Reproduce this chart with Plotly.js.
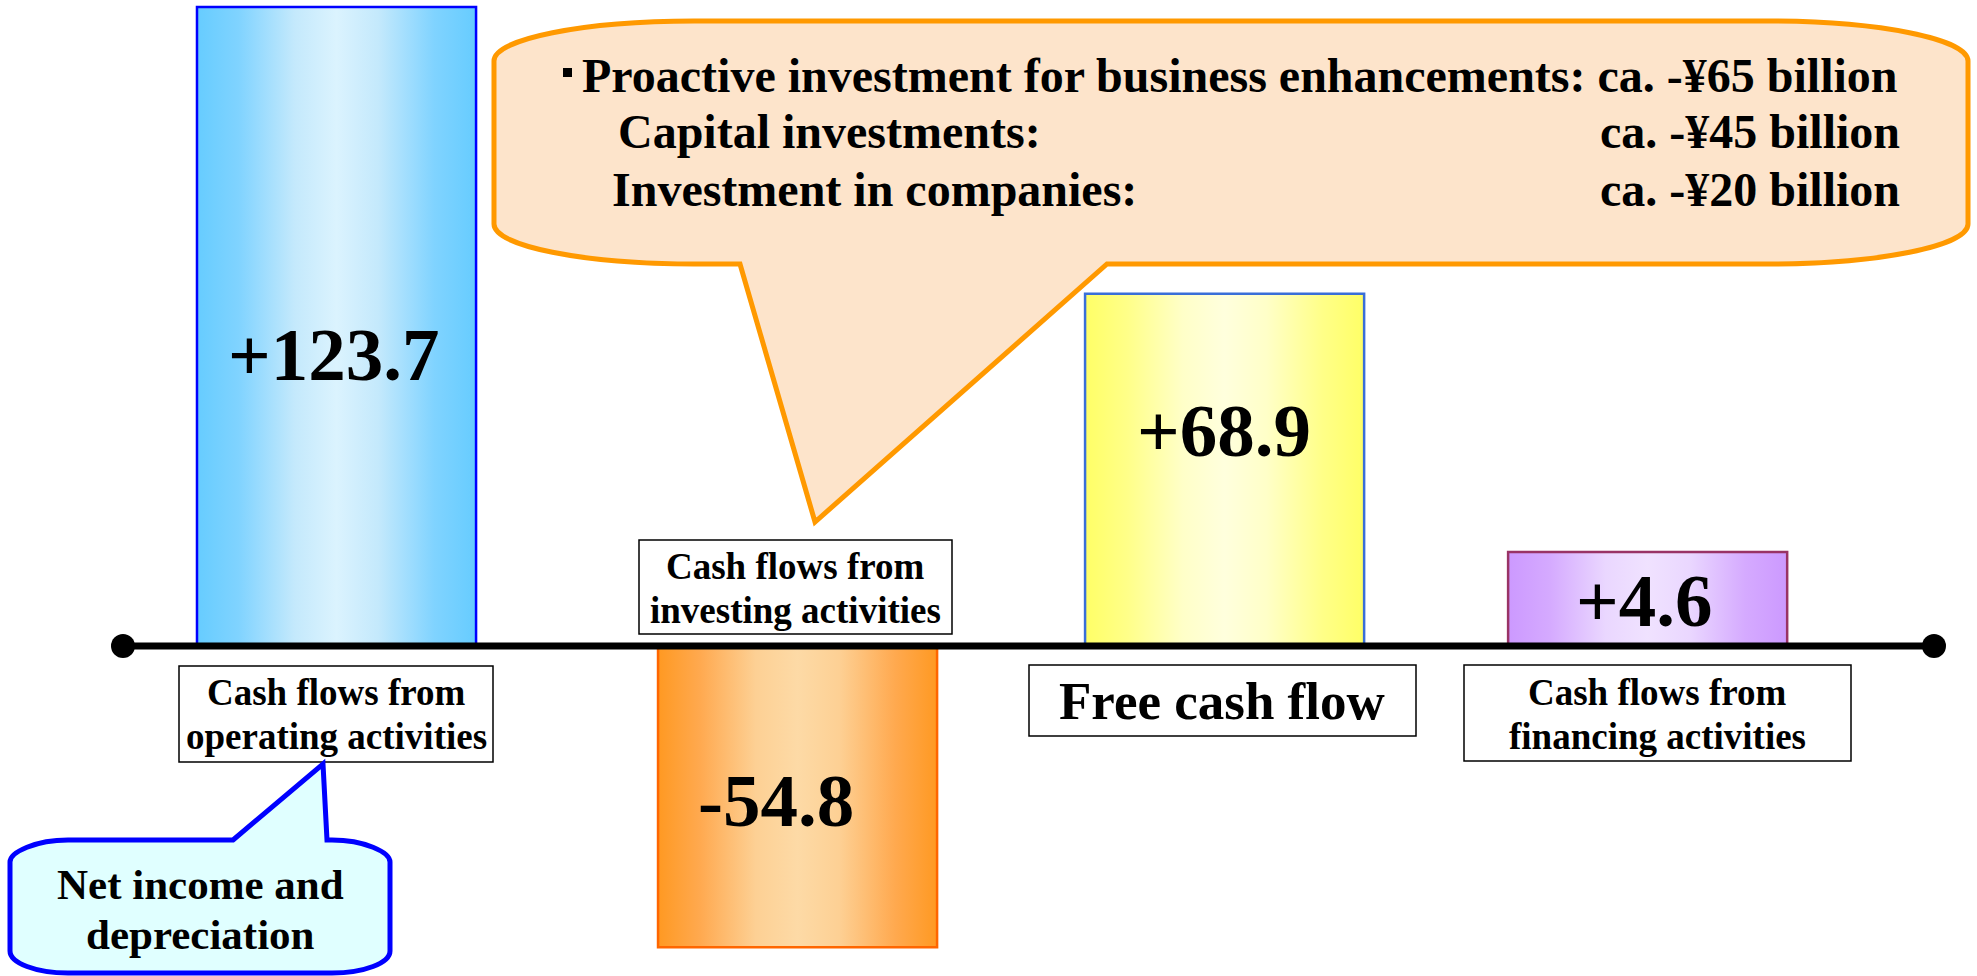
<!DOCTYPE html>
<html><head><meta charset="utf-8">
<script src="https://cdn.plot.ly/plotly-3.0.1.min.js"></script>
<style>html,body{margin:0;padding:0;background:#fff;overflow:hidden}#chart{width:1977px;height:976px}</style>
</head><body><div id="chart"></div>
<script>
// ---- data ----
const categories = ['Operating', 'Investing', 'Free cash flow', 'Financing'];
// bar lengths as drawn in the reference (schematic; small values are drawn enlarged)
const barLengths = [123.7, -58.3, 68.2, 18.2];
const valueLabels = ['+123.7', '-54.8', '+68.9', '+4.6'];
const categoryLabels = [
  ['Cash flows from', 'operating activities'],
  ['Cash flows from', 'investing activities'],
  ['Free cash flow'],
  ['Cash flows from', 'financing activities']
];
const noteLines = ['Net income and', 'depreciation'];
const investHeadline = 'Proactive investment for business enhancements: ca. -¥65 billion';
const investItems = ['Capital investments:', 'Investment in companies:'];
const investAmounts = ['ca. -¥45 billion', 'ca. -¥20 billion'];

// ---- styles ----
const W = 1977, H = 976;
const FONT = 'Liberation Serif, Times New Roman, serif';
const borderColors = ['#0000FF', '#FF6600', '#3A6FD8', '#993366'];
const baseColors = ['#66CCFF', '#FF9922', '#FFFF66', '#CC99FF'];
const gradients = [
  [[0, '#66CCFF'], [0.15, '#80D3FF'], [0.35, '#C4E9FC'], [0.5, '#DBF3FE'], [0.65, '#C4E9FC'], [0.85, '#80D3FF'], [1, '#66CCFF']],
  [[0, '#FF9922'], [0.15, '#FFA94F'], [0.35, '#FDD094'], [0.5, '#FDDAA6'], [0.65, '#FDD094'], [0.85, '#FFA94F'], [1, '#FF9922']],
  [[0, '#FFFF66'], [0.15, '#FFFF88'], [0.35, '#FFFFC8'], [0.5, '#FFFFDD'], [0.65, '#FFFFC8'], [0.85, '#FFFF88'], [1, '#FFFF66']],
  [[0, '#CC99FF'], [0.15, '#D5AAFF'], [0.35, '#EAD7FF'], [0.5, '#F0E2FF'], [0.65, '#EAD7FF'], [0.85, '#D5AAFF'], [1, '#CC99FF']]
];
// horizontal layout: category slot width in px and per-bar nudges (px) to match the reference spacing
const SLOT_PX = 436.03, BAR_W = 0.64;
const barNudgePx = [-11, 14, 5, -8];

const px = x => x / W;
const py = y => 1 - y / H;
const toPaper = d => d.replace(/(-?\d+\.?\d*),(-?\d+\.?\d*)/g, (m, a, b) => px(+a).toFixed(5) + ',' + py(+b).toFixed(5));

function ann(text, x, y, size, xanchor) {
  return {
    text: '<b>' + text + '</b>', xref: 'paper', yref: 'paper', x: px(x), y: py(y),
    xanchor: xanchor || 'center', yanchor: 'middle', showarrow: false,
    font: {family: FONT, size: size, color: '#000'}, borderpad: 0
  };
}

function rect(x0, y0, x1, y1, line, lw, fill) {
  return {type: 'rect', xref: 'paper', yref: 'paper', x0: px(x0), x1: px(x1), y0: py(y1), y1: py(y0),
    line: {color: line, width: lw}, fillcolor: fill, layer: 'above'};
}

const trace = {
  type: 'bar', x: categories, y: barLengths, width: BAR_W,
  offset: barNudgePx.map(n => -BAR_W / 2 + n / SLOT_PX),
  marker: {color: baseColors, line: {color: borderColors, width: 2.5}},
  hoverinfo: 'none', textposition: 'none'
};

const shapes = [];
// category label boxes
shapes.push(rect(179, 666, 493, 762, '#000', 1.5, '#fff'));
shapes.push(rect(639, 540, 952, 634, '#000', 1.5, '#fff'));
shapes.push(rect(1029, 665, 1416, 736, '#000', 1.5, '#fff'));
shapes.push(rect(1464, 665, 1851, 761, '#000', 1.5, '#fff'));
// orange callout
shapes.push({type: 'path', xref: 'paper', yref: 'paper', layer: 'above',
  path: toPaper('M740,264 L815,522 L1107,264 L1768,264 C1878.5,264 1968,246.1 1968,224 L1968,61 C1968,38.9 1878.5,21 1768,21 L694,21 C583.5,21 494,38.9 494,61 L494,224 C494,246.1 583.5,264 694,264 Z'),
  line: {color: '#FF9900', width: 5}, fillcolor: '#FDE4CB'});
// bullet
shapes.push(rect(563, 68, 572, 77, '#000', 0, '#000'));
// blue callout
shapes.push({type: 'path', xref: 'paper', yref: 'paper', layer: 'above',
  path: toPaper('M233,840 L323,764 L327,840 L332,840 C364,840 390,852 390,862 L390,951 C390,963 364,973 332,973 L68,973 C36,973 10,963 10,951 L10,862 C10,852 36,840 68,840 Z'),
  line: {color: '#0000FF', width: 5}, fillcolor: '#E0FFFF'});
// axis line + end dots
shapes.push({type: 'line', xref: 'paper', yref: 'y', x0: px(122), x1: px(1934), y0: 0, y1: 0,
  line: {color: '#000', width: 7}, layer: 'above'});
[123, 1934].forEach(cx => shapes.push({type: 'circle', xref: 'paper', yref: 'paper',
  x0: px(cx - 12), x1: px(cx + 12), y0: py(658), y1: py(634), line: {width: 0}, fillcolor: '#000', layer: 'above'}));

const annotations = [];
// value labels
const valuePos = [[333.5, 354.7], [776, 800.7], [1224, 430.7], [1644, 600.7]];
valueLabels.forEach((t, i) => annotations.push(ann(t, valuePos[i][0], valuePos[i][1], 75)));
// category labels
const labelPos = [[336, [692, 736]], [795, [566, 610]], [1222, [701]], [1657, [692, 736]]];
categoryLabels.forEach((lines, i) => lines.forEach((t, j) =>
  annotations.push(ann(t, labelPos[i][0], labelPos[i][1][j], i === 2 ? 53 : 37))));
// note callout
const noteY = [884, 934];
noteLines.forEach((t, j) => annotations.push(ann(t, 200.5, noteY[j], 43)));
// investment callout
annotations.push(ann(investHeadline, 581, 75, 48, 'left'));
const itemX = [617, 611], itemY = [132, 189];
investItems.forEach((t, j) => {
  annotations.push(ann(t, itemX[j], itemY[j], 48, 'left'));
  annotations.push(ann(investAmounts[j], 1901, itemY[j], 48, 'right'));
});

const layout = {
  width: W, height: H, margin: {l: 0, r: 0, t: 0, b: 0},
  paper_bgcolor: '#fff', plot_bgcolor: '#fff', showlegend: false,
  xaxis: {type: 'category', range: [-0.797, 3.737], visible: false, fixedrange: true},
  yaxis: {range: [-63.88, 125.05], visible: false, fixedrange: true},
  shapes: shapes, annotations: annotations, bargap: 0
};

Plotly.newPlot('chart', [trace], layout, {staticPlot: true}).then(gd => {
  const NS = 'http://www.w3.org/2000/svg';
  const svg = gd.querySelector('.main-svg');
  let defs = svg.querySelector('defs');
  if (!defs) { defs = document.createElementNS(NS, 'defs'); svg.insertBefore(defs, svg.firstChild); }
  gradients.forEach((stops, i) => {
    const g = document.createElementNS(NS, 'linearGradient');
    g.setAttribute('id', 'barGrad' + i);
    g.setAttribute('x1', '0'); g.setAttribute('x2', '1'); g.setAttribute('y1', '0'); g.setAttribute('y2', '0');
    stops.forEach(s => {
      const st = document.createElementNS(NS, 'stop');
      st.setAttribute('offset', s[0]); st.setAttribute('stop-color', s[1]);
      g.appendChild(st);
    });
    defs.appendChild(g);
  });
  gd.querySelectorAll('.barlayer .point path').forEach((p, i) => {
    p.style.fill = 'url(#barGrad' + i + ')';
  });
});
</script></body></html>
